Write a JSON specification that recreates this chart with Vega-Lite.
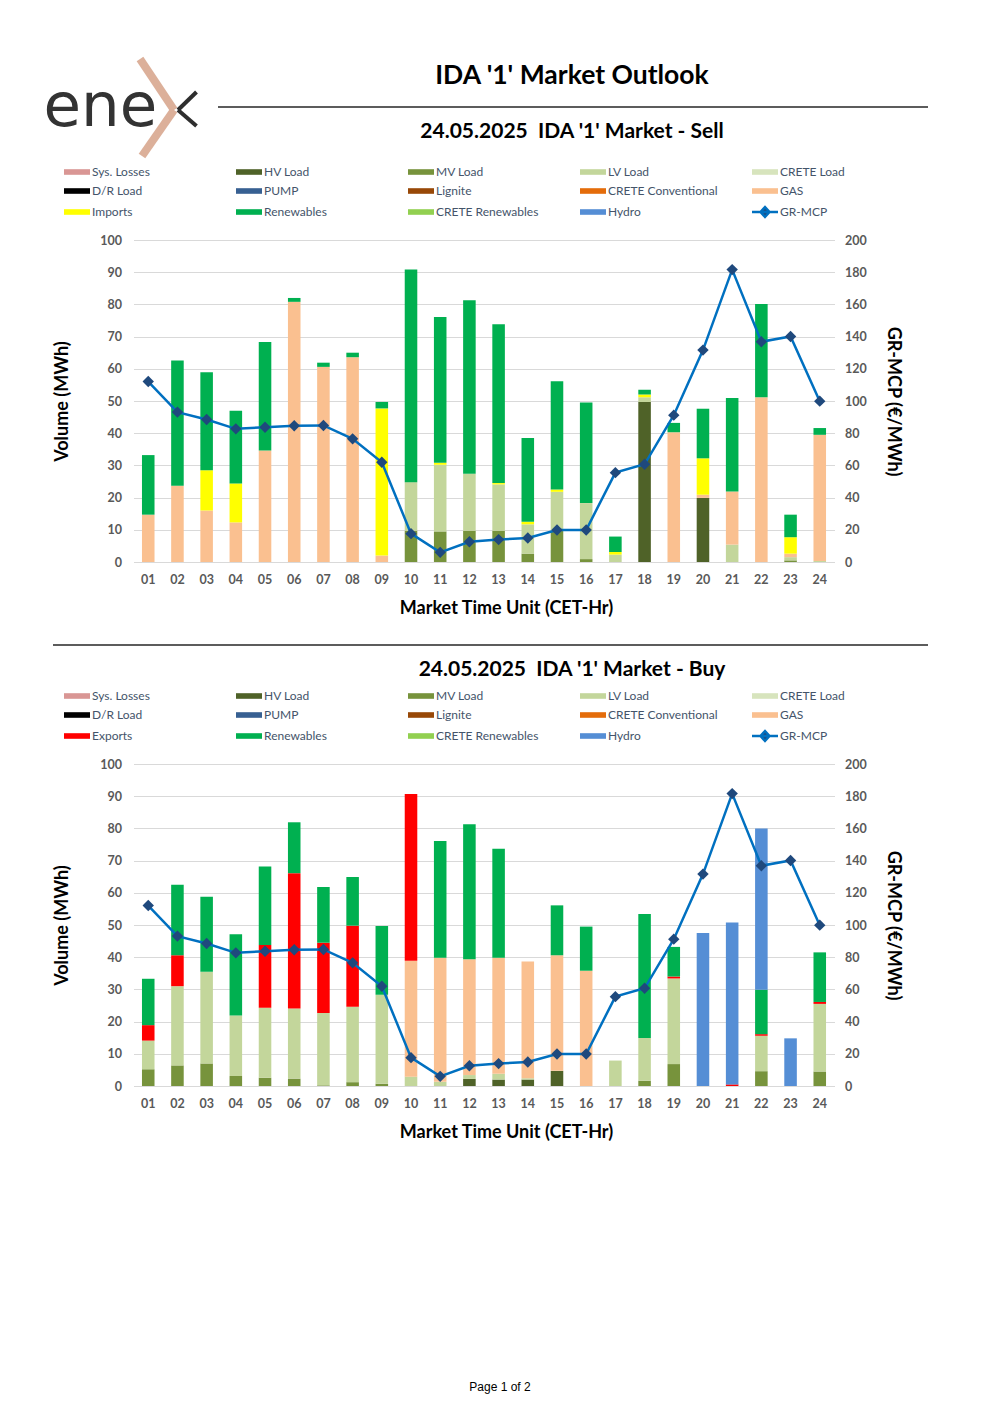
{
  "$schema": "https://vega.github.io/schema/vega-lite/v6.json",
  "background": "white",
  "padding": {"left": 43.5, "top": 55, "right": 5, "bottom": 5},
  "autosize": {"type": "pad"},
  "config": {
    "view": {"stroke": null},
    "font": "Lato",
    "axis": {"labelFont": "Lato", "titleFont": "Lato"},
    "legend": {
      "orient": "none",
      "columns": 5,
      "direction": "horizontal",
      "gridAlign": "all",
      "columnPadding": 29,
      "rowPadding": 1,
      "symbolSize": 400,
      "symbolType": "M-1.3,-0.28H1.3V0.28H-1.3Z",
      "symbolOpacity": 1,
      "labelFont": "Lato",
      "labelFontSize": 12,
      "labelColor": "#44546A",
      "labelOffset": 9,
      "labelLimit": 200,
      "title": null,
      "legendX": -62.5,
      "legendY": -76
    }
  },
  "datasets": {
    "mcp": [
      {"hour": "01", "mcp": 112.1}, {"hour": "02", "mcp": 93.1}, {"hour": "03", "mcp": 88.5}, {"hour": "04", "mcp": 82.7},
      {"hour": "05", "mcp": 83.7}, {"hour": "06", "mcp": 84.6}, {"hour": "07", "mcp": 84.8}, {"hour": "08", "mcp": 76.5},
      {"hour": "09", "mcp": 62.0}, {"hour": "10", "mcp": 17.6}, {"hour": "11", "mcp": 6.0}, {"hour": "12", "mcp": 12.6},
      {"hour": "13", "mcp": 13.9}, {"hour": "14", "mcp": 14.9}, {"hour": "15", "mcp": 19.9}, {"hour": "16", "mcp": 19.9},
      {"hour": "17", "mcp": 55.5}, {"hour": "18", "mcp": 60.7}, {"hour": "19", "mcp": 91.2}, {"hour": "20", "mcp": 131.6},
      {"hour": "21", "mcp": 181.6}, {"hour": "22", "mcp": 136.8}, {"hour": "23", "mcp": 140.1}, {"hour": "24", "mcp": 99.9}
    ],
    "sell": [
      {"hour": "01", "series": "GAS", "mwh": 14.7}, {"hour": "01", "series": "Renewables", "mwh": 18.5},
      {"hour": "02", "series": "GAS", "mwh": 23.7}, {"hour": "02", "series": "Renewables", "mwh": 38.9},
      {"hour": "03", "series": "GAS", "mwh": 16.0}, {"hour": "03", "series": "Imports", "mwh": 12.5}, {"hour": "03", "series": "Renewables", "mwh": 30.4},
      {"hour": "04", "series": "GAS", "mwh": 12.3}, {"hour": "04", "series": "Imports", "mwh": 12.1}, {"hour": "04", "series": "Renewables", "mwh": 22.6},
      {"hour": "05", "series": "GAS", "mwh": 34.6}, {"hour": "05", "series": "Renewables", "mwh": 33.7},
      {"hour": "06", "series": "GAS", "mwh": 80.8}, {"hour": "06", "series": "Renewables", "mwh": 1.2},
      {"hour": "07", "series": "GAS", "mwh": 60.6}, {"hour": "07", "series": "Renewables", "mwh": 1.3},
      {"hour": "08", "series": "GAS", "mwh": 63.6}, {"hour": "08", "series": "Renewables", "mwh": 1.4},
      {"hour": "09", "series": "GAS", "mwh": 2.0}, {"hour": "09", "series": "Imports", "mwh": 45.7}, {"hour": "09", "series": "Renewables", "mwh": 2.0},
      {"hour": "10", "series": "MV Load", "mwh": 9.7}, {"hour": "10", "series": "LV Load", "mwh": 15.1}, {"hour": "10", "series": "Renewables", "mwh": 66.0},
      {"hour": "11", "series": "MV Load", "mwh": 9.5}, {"hour": "11", "series": "LV Load", "mwh": 20.7}, {"hour": "11", "series": "Imports", "mwh": 0.6}, {"hour": "11", "series": "Renewables", "mwh": 45.3},
      {"hour": "12", "series": "MV Load", "mwh": 9.7}, {"hour": "12", "series": "LV Load", "mwh": 17.7}, {"hour": "12", "series": "Renewables", "mwh": 53.9},
      {"hour": "13", "series": "MV Load", "mwh": 9.7}, {"hour": "13", "series": "LV Load", "mwh": 14.4}, {"hour": "13", "series": "Imports", "mwh": 0.4}, {"hour": "13", "series": "Renewables", "mwh": 49.3},
      {"hour": "14", "series": "MV Load", "mwh": 2.6}, {"hour": "14", "series": "LV Load", "mwh": 9.1}, {"hour": "14", "series": "Imports", "mwh": 0.8}, {"hour": "14", "series": "Renewables", "mwh": 26.0},
      {"hour": "15", "series": "MV Load", "mwh": 9.7}, {"hour": "15", "series": "LV Load", "mwh": 12.1}, {"hour": "15", "series": "Imports", "mwh": 0.7}, {"hour": "15", "series": "Renewables", "mwh": 33.6},
      {"hour": "16", "series": "MV Load", "mwh": 0.9}, {"hour": "16", "series": "LV Load", "mwh": 17.4}, {"hour": "16", "series": "Renewables", "mwh": 31.2},
      {"hour": "17", "series": "LV Load", "mwh": 2.3}, {"hour": "17", "series": "Imports", "mwh": 0.8}, {"hour": "17", "series": "Renewables", "mwh": 4.8},
      {"hour": "18", "series": "HV Load", "mwh": 49.7}, {"hour": "18", "series": "LV Load", "mwh": 1.5}, {"hour": "18", "series": "Imports", "mwh": 0.8}, {"hour": "18", "series": "Renewables", "mwh": 1.5},
      {"hour": "19", "series": "GAS", "mwh": 40.3}, {"hour": "19", "series": "Renewables", "mwh": 2.9},
      {"hour": "20", "series": "HV Load", "mwh": 19.9}, {"hour": "20", "series": "GAS", "mwh": 1.0}, {"hour": "20", "series": "Imports", "mwh": 11.3}, {"hour": "20", "series": "Renewables", "mwh": 15.4},
      {"hour": "21", "series": "LV Load", "mwh": 5.4}, {"hour": "21", "series": "GAS", "mwh": 16.5}, {"hour": "21", "series": "Renewables", "mwh": 29.0},
      {"hour": "22", "series": "GAS", "mwh": 51.2}, {"hour": "22", "series": "Renewables", "mwh": 28.9},
      {"hour": "23", "series": "MV Load", "mwh": 0.5}, {"hour": "23", "series": "LV Load", "mwh": 1.0}, {"hour": "23", "series": "GAS", "mwh": 1.1}, {"hour": "23", "series": "Imports", "mwh": 5.1}, {"hour": "23", "series": "Renewables", "mwh": 7.0},
      {"hour": "24", "series": "LV Load", "mwh": 0.3}, {"hour": "24", "series": "GAS", "mwh": 39.2}, {"hour": "24", "series": "Renewables", "mwh": 2.1}
    ],
    "buy": [
      {"hour": "01", "series": "MV Load", "mwh": 5.2}, {"hour": "01", "series": "LV Load", "mwh": 8.9}, {"hour": "01", "series": "Exports", "mwh": 4.8}, {"hour": "01", "series": "Renewables", "mwh": 14.4},
      {"hour": "02", "series": "MV Load", "mwh": 6.4}, {"hour": "02", "series": "LV Load", "mwh": 24.6}, {"hour": "02", "series": "Exports", "mwh": 9.6}, {"hour": "02", "series": "Renewables", "mwh": 21.9},
      {"hour": "03", "series": "MV Load", "mwh": 7.0}, {"hour": "03", "series": "LV Load", "mwh": 28.5}, {"hour": "03", "series": "Renewables", "mwh": 23.3},
      {"hour": "04", "series": "MV Load", "mwh": 3.1}, {"hour": "04", "series": "LV Load", "mwh": 18.8}, {"hour": "04", "series": "Renewables", "mwh": 25.2},
      {"hour": "05", "series": "MV Load", "mwh": 2.6}, {"hour": "05", "series": "LV Load", "mwh": 21.7}, {"hour": "05", "series": "Exports", "mwh": 19.5}, {"hour": "05", "series": "Renewables", "mwh": 24.4},
      {"hour": "06", "series": "MV Load", "mwh": 2.3}, {"hour": "06", "series": "LV Load", "mwh": 21.8}, {"hour": "06", "series": "Exports", "mwh": 42.0}, {"hour": "06", "series": "Renewables", "mwh": 15.8},
      {"hour": "07", "series": "MV Load", "mwh": 0.2}, {"hour": "07", "series": "LV Load", "mwh": 22.5}, {"hour": "07", "series": "Exports", "mwh": 21.8}, {"hour": "07", "series": "Renewables", "mwh": 17.3},
      {"hour": "08", "series": "MV Load", "mwh": 1.2}, {"hour": "08", "series": "LV Load", "mwh": 23.4}, {"hour": "08", "series": "Exports", "mwh": 25.2}, {"hour": "08", "series": "Renewables", "mwh": 15.1},
      {"hour": "09", "series": "MV Load", "mwh": 0.7}, {"hour": "09", "series": "LV Load", "mwh": 27.6}, {"hour": "09", "series": "Renewables", "mwh": 21.4},
      {"hour": "10", "series": "LV Load", "mwh": 2.9}, {"hour": "10", "series": "GAS", "mwh": 36.0}, {"hour": "10", "series": "Exports", "mwh": 51.8},
      {"hour": "11", "series": "LV Load", "mwh": 1.3}, {"hour": "11", "series": "GAS", "mwh": 38.5}, {"hour": "11", "series": "Renewables", "mwh": 36.3},
      {"hour": "12", "series": "HV Load", "mwh": 2.2}, {"hour": "12", "series": "LV Load", "mwh": 1.2}, {"hour": "12", "series": "GAS", "mwh": 36.0}, {"hour": "12", "series": "Renewables", "mwh": 41.9},
      {"hour": "13", "series": "HV Load", "mwh": 2.0}, {"hour": "13", "series": "LV Load", "mwh": 1.8}, {"hour": "13", "series": "GAS", "mwh": 36.0}, {"hour": "13", "series": "Renewables", "mwh": 33.9},
      {"hour": "14", "series": "HV Load", "mwh": 2.0}, {"hour": "14", "series": "LV Load", "mwh": 0.4}, {"hour": "14", "series": "GAS", "mwh": 36.3},
      {"hour": "15", "series": "HV Load", "mwh": 4.7}, {"hour": "15", "series": "GAS", "mwh": 35.9}, {"hour": "15", "series": "Renewables", "mwh": 15.5},
      {"hour": "16", "series": "GAS", "mwh": 35.8}, {"hour": "16", "series": "Renewables", "mwh": 13.7},
      {"hour": "17", "series": "LV Load", "mwh": 7.9},
      {"hour": "18", "series": "MV Load", "mwh": 1.6}, {"hour": "18", "series": "LV Load", "mwh": 13.3}, {"hour": "18", "series": "Renewables", "mwh": 38.5},
      {"hour": "19", "series": "MV Load", "mwh": 6.8}, {"hour": "19", "series": "LV Load", "mwh": 26.6}, {"hour": "19", "series": "Exports", "mwh": 0.6}, {"hour": "19", "series": "Renewables", "mwh": 9.2},
      {"hour": "20", "series": "Hydro", "mwh": 47.5},
      {"hour": "21", "series": "Exports", "mwh": 0.5}, {"hour": "21", "series": "Hydro", "mwh": 50.3},
      {"hour": "22", "series": "MV Load", "mwh": 4.6}, {"hour": "22", "series": "LV Load", "mwh": 11.0}, {"hour": "22", "series": "Exports", "mwh": 0.5}, {"hour": "22", "series": "Renewables", "mwh": 13.8}, {"hour": "22", "series": "Hydro", "mwh": 50.1},
      {"hour": "23", "series": "Hydro", "mwh": 14.8},
      {"hour": "24", "series": "MV Load", "mwh": 4.5}, {"hour": "24", "series": "LV Load", "mwh": 21.0}, {"hour": "24", "series": "Exports", "mwh": 0.6}, {"hour": "24", "series": "Renewables", "mwh": 15.4}
    ],
    "chevron": [
      {"x1": 6.5, "y1": -1, "x2": 40.5, "y2": 50},
      {"x1": 40.5, "y1": 50, "x2": 8.5, "y2": 96}
    ],
    "darkstroke": [
      {"x1": 63, "y1": 32, "x2": 44.5, "y2": 50},
      {"x1": 44.5, "y1": 50, "x2": 63, "y2": 66}
    ],
    "rules": [
      {"x1": 84.5, "y1": 47, "x2": 794.5, "y2": 47},
      {"x1": -80.5, "y1": 585, "x2": 794.5, "y2": 585}
    ],
    "logo": [{"label": "ene", "x": -90, "y": 66}],
    "maintitle": [{"label": "IDA '1' Market Outlook", "x": 438.5, "y": 16}],
    "footer": [{"label": "Page 1 of 2", "x": 366.5, "y": 1327}]
  },
  "bounds": "flush",
  "spacing": 140,
  "resolve": {"scale": {"x": "independent", "y": "independent", "color": "independent"}, "legend": {"color": "independent"}},
  "vconcat": [
    {
      "width": 701,
      "height": 40,
      "layer": [
        {
          "data": {"name": "chevron"},
          "mark": {"type": "rule", "color": "#DCB09A", "strokeWidth": 8, "strokeCap": "butt"},
          "encoding": {
            "x": {"field": "x1", "type": "quantitative", "scale": {"domain": [0, 701], "nice": false, "zero": false}, "axis": null},
            "x2": {"field": "x2"},
            "y": {"field": "y1", "type": "quantitative", "scale": {"domain": [0, 40], "nice": false, "zero": false, "reverse": true}, "axis": null},
            "y2": {"field": "y2"}
          }
        },
        {
          "data": {"name": "darkstroke"},
          "mark": {"type": "rule", "color": "#2E2E2E", "strokeWidth": 4, "strokeCap": "butt"},
          "encoding": {
            "x": {"field": "x1", "type": "quantitative", "scale": {"domain": [0, 701], "nice": false, "zero": false}, "axis": null},
            "x2": {"field": "x2"},
            "y": {"field": "y1", "type": "quantitative", "scale": {"domain": [0, 40], "nice": false, "zero": false, "reverse": true}, "axis": null},
            "y2": {"field": "y2"}
          }
        },
        {
          "data": {"name": "rules"},
          "mark": {"type": "rule", "color": "#262626", "strokeWidth": 1.3},
          "encoding": {
            "x": {"field": "x1", "type": "quantitative", "scale": {"domain": [0, 701], "nice": false, "zero": false}, "axis": null},
            "x2": {"field": "x2"},
            "y": {"field": "y1", "type": "quantitative", "scale": {"domain": [0, 40], "nice": false, "zero": false, "reverse": true}, "axis": null},
            "y2": {"field": "y2"}
          }
        },
        {
          "data": {"name": "logo"},
          "mark": {"type": "text", "font": "DejaVu Sans", "fontSize": 61, "fontWeight": "normal", "color": "#333333", "align": "left", "baseline": "alphabetic"},
          "encoding": {
            "x": {"field": "x", "type": "quantitative", "scale": {"domain": [0, 701], "nice": false, "zero": false}, "axis": null},
            "y": {"field": "y", "type": "quantitative", "scale": {"domain": [0, 40], "nice": false, "zero": false, "reverse": true}, "axis": null},
            "text": {"field": "label"}
          }
        },
        {
          "data": {"name": "maintitle"},
          "mark": {"type": "text", "font": "Lato", "fontSize": 26.5, "fontWeight": "bold", "color": "#000000", "align": "center", "baseline": "middle"},
          "encoding": {
            "x": {"field": "x", "type": "quantitative", "scale": {"domain": [0, 701], "nice": false, "zero": false}, "axis": null},
            "y": {"field": "y", "type": "quantitative", "scale": {"domain": [0, 40], "nice": false, "zero": false, "reverse": true}, "axis": null},
            "text": {"field": "label"}
          }
        },
        {
          "data": {"name": "footer"},
          "mark": {"type": "text", "font": "Liberation Sans", "fontSize": 12, "color": "#000000", "align": "center", "baseline": "middle"},
          "encoding": {
            "x": {"field": "x", "type": "quantitative", "scale": {"domain": [0, 701], "nice": false, "zero": false}, "axis": null},
            "y": {"field": "y", "type": "quantitative", "scale": {"domain": [0, 40], "nice": false, "zero": false, "reverse": true}, "axis": null},
            "text": {"field": "label"}
          }
        }
      ]
    },
    {
      "bounds": "flush",
      "spacing": 202,
      "resolve": {"scale": {"x": "independent", "y": "independent", "color": "independent"}, "legend": {"color": "independent"}},
      "vconcat": [
        {
          "width": 701,
          "height": 322,
          "title": {"text": "24.05.2025\u00a0 IDA '1' Market - Sell", "font": "Lato", "fontSize": 21, "fontWeight": "bold", "color": "#000000", "anchor": "middle", "dx": 88, "offset": 22},
          "layer": [
            {
              "data": {"name": "sell"},
              "transform": [{"calculate": "indexof(['Sys. Losses','HV Load','MV Load','LV Load','CRETE Load','D/R Load','PUMP','Lignite','CRETE Conventional','GAS','Imports','Renewables','CRETE Renewables','Hydro'], datum.series)", "as": "ord"}],
              "mark": {"type": "bar"},
              "encoding": {
                "x": {"field": "hour", "type": "ordinal", "title": "Market Time Unit (CET-Hr)", "scale": {"paddingInner": 0.57, "paddingOuter": 0.29},
                  "axis": {"labelAngle": 0, "ticks": false, "domain": false, "labelPadding": 11, "labelFont": "Lato", "labelFontSize": 12.5, "labelFontWeight": "bold", "labelColor": "#595959", "titleFont": "Lato", "titleFontSize": 18, "titleFontWeight": "bold", "titleColor": "#000000", "titlePadding": 14, "titleX": 372.5}},
                "y": {"field": "mwh", "type": "quantitative", "stack": "zero", "title": "Volume (MWh)", "scale": {"domain": [0, 100], "nice": false},
                  "axis": {"values": [0, 10, 20, 30, 40, 50, 60, 70, 80, 90, 100], "grid": true, "gridColor": "#D9D9D9", "domain": false, "ticks": false, "labelPadding": 12, "labelFont": "Lato", "labelFontSize": 12.5, "labelFontWeight": "bold", "labelColor": "#595959", "titleFont": "Lato", "titleFontSize": 18, "titleFontWeight": "bold", "titleColor": "#000000", "titlePadding": 28}},
                "color": {"field": "series", "type": "nominal",
                  "scale": {"domain": ["Sys. Losses", "HV Load", "MV Load", "LV Load", "CRETE Load", "D/R Load", "PUMP", "Lignite", "CRETE Conventional", "GAS", "Imports", "Renewables", "CRETE Renewables", "Hydro", "GR-MCP"],
                            "range": ["#D99694", "#4F6228", "#77933C", "#C3D69B", "#D7E4BD", "#000000", "#376092", "#984807", "#E46C0A", "#FAC090", "#FFFF00", "#00B050", "#92D050", "#558ED5", "#1F497D"]},
                  "legend": {"encode": {"symbols": {"update": {
                    "shape": {"signal": "datum.value === 'GR-MCP' ? 'M-1.3,0H1.3M0,-0.5L0.45,0L0,0.5L-0.45,0Z' : 'M-1.3,-0.28H1.3V0.28H-1.3Z'"},
                    "stroke": {"signal": "datum.value === 'GR-MCP' ? '#0070C0' : 'transparent'"},
                    "strokeWidth": {"signal": "datum.value === 'GR-MCP' ? 2.5 : 0"}}}}}},
                "order": {"field": "ord", "type": "quantitative"}
              }
            },
            {
              "data": {"name": "mcp"},
              "encoding": {
                "x": {"field": "hour", "type": "ordinal", "title": "Market Time Unit (CET-Hr)", "scale": {"paddingInner": 0.57, "paddingOuter": 0.29}},
                "y": {"field": "mcp", "type": "quantitative", "title": "GR-MCP (€/MWh)", "scale": {"domain": [0, 200], "nice": false},
                  "axis": {"orient": "right", "values": [0, 20, 40, 60, 80, 100, 120, 140, 160, 180, 200], "grid": false, "domain": false, "ticks": false, "labelPadding": 10, "labelFont": "Lato", "labelFontSize": 12.5, "labelFontWeight": "bold", "labelColor": "#595959", "titleFont": "Lato", "titleFontSize": 18, "titleFontWeight": "bold", "titleColor": "#000000", "titlePadding": 17}}
              },
              "layer": [
                {"mark": {"type": "line", "color": "#0070C0", "strokeWidth": 2.5}},
                {"mark": {"type": "point", "shape": "diamond", "filled": true, "fill": "#1F497D", "size": 130, "opacity": 1}}
              ]
            }
          ],
          "resolve": {"scale": {"y": "independent"}}
        },
        {
          "width": 701,
          "height": 322,
          "title": {"text": "24.05.2025\u00a0 IDA '1' Market - Buy", "font": "Lato", "fontSize": 21, "fontWeight": "bold", "color": "#000000", "anchor": "middle", "dx": 88, "offset": 8},
          "layer": [
            {
              "data": {"name": "buy"},
              "transform": [{"calculate": "indexof(['Sys. Losses','HV Load','MV Load','LV Load','CRETE Load','D/R Load','PUMP','Lignite','CRETE Conventional','GAS','Exports','Renewables','CRETE Renewables','Hydro'], datum.series)", "as": "ord"}],
              "mark": {"type": "bar"},
              "encoding": {
                "x": {"field": "hour", "type": "ordinal", "title": "Market Time Unit (CET-Hr)", "scale": {"paddingInner": 0.57, "paddingOuter": 0.29},
                  "axis": {"labelAngle": 0, "ticks": false, "domain": false, "labelPadding": 11, "labelFont": "Lato", "labelFontSize": 12.5, "labelFontWeight": "bold", "labelColor": "#595959", "titleFont": "Lato", "titleFontSize": 18, "titleFontWeight": "bold", "titleColor": "#000000", "titlePadding": 14, "titleX": 372.5}},
                "y": {"field": "mwh", "type": "quantitative", "stack": "zero", "title": "Volume (MWh)", "scale": {"domain": [0, 100], "nice": false},
                  "axis": {"values": [0, 10, 20, 30, 40, 50, 60, 70, 80, 90, 100], "grid": true, "gridColor": "#D9D9D9", "domain": false, "ticks": false, "labelPadding": 12, "labelFont": "Lato", "labelFontSize": 12.5, "labelFontWeight": "bold", "labelColor": "#595959", "titleFont": "Lato", "titleFontSize": 18, "titleFontWeight": "bold", "titleColor": "#000000", "titlePadding": 28}},
                "color": {"field": "series", "type": "nominal",
                  "scale": {"domain": ["Sys. Losses", "HV Load", "MV Load", "LV Load", "CRETE Load", "D/R Load", "PUMP", "Lignite", "CRETE Conventional", "GAS", "Exports", "Renewables", "CRETE Renewables", "Hydro", "GR-MCP"],
                            "range": ["#D99694", "#4F6228", "#77933C", "#C3D69B", "#D7E4BD", "#000000", "#376092", "#984807", "#E46C0A", "#FAC090", "#FF0000", "#00B050", "#92D050", "#558ED5", "#1F497D"]},
                  "legend": {"encode": {"symbols": {"update": {
                    "shape": {"signal": "datum.value === 'GR-MCP' ? 'M-1.3,0H1.3M0,-0.5L0.45,0L0,0.5L-0.45,0Z' : 'M-1.3,-0.28H1.3V0.28H-1.3Z'"},
                    "stroke": {"signal": "datum.value === 'GR-MCP' ? '#0070C0' : 'transparent'"},
                    "strokeWidth": {"signal": "datum.value === 'GR-MCP' ? 2.5 : 0"}}}}}},
                "order": {"field": "ord", "type": "quantitative"}
              }
            },
            {
              "data": {"name": "mcp"},
              "encoding": {
                "x": {"field": "hour", "type": "ordinal", "title": "Market Time Unit (CET-Hr)", "scale": {"paddingInner": 0.57, "paddingOuter": 0.29}},
                "y": {"field": "mcp", "type": "quantitative", "title": "GR-MCP (€/MWh)", "scale": {"domain": [0, 200], "nice": false},
                  "axis": {"orient": "right", "values": [0, 20, 40, 60, 80, 100, 120, 140, 160, 180, 200], "grid": false, "domain": false, "ticks": false, "labelPadding": 10, "labelFont": "Lato", "labelFontSize": 12.5, "labelFontWeight": "bold", "labelColor": "#595959", "titleFont": "Lato", "titleFontSize": 18, "titleFontWeight": "bold", "titleColor": "#000000", "titlePadding": 17}}
              },
              "layer": [
                {"mark": {"type": "line", "color": "#0070C0", "strokeWidth": 2.5}},
                {"mark": {"type": "point", "shape": "diamond", "filled": true, "fill": "#1F497D", "size": 130, "opacity": 1}}
              ]
            }
          ],
          "resolve": {"scale": {"y": "independent"}}
        }
      ]
    }
  ]
}
